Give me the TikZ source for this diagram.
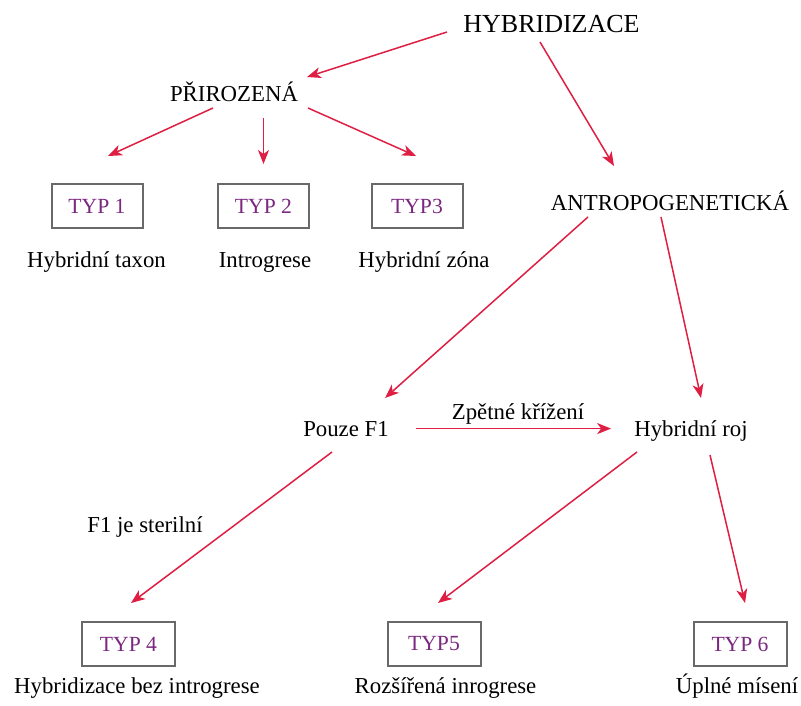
\documentclass[tikz,border=0pt]{standalone}
\usepackage{fontspec}
\setmainfont{Liberation Serif}
\usepackage{tikz}
\usetikzlibrary{arrows.meta, positioning}
\definecolor{arrred}{RGB}{222,30,66}
\definecolor{typpurple}{RGB}{122,40,128}
\definecolor{boxgray}{RGB}{105,105,105}
\tikzstyle{title} = [inner sep=0pt, anchor=base, font=\fontsize{26}{30}\selectfont]
\tikzstyle{lbl} = [inner sep=0pt, anchor=base, font=\fontsize{22.8}{27}\selectfont]
\tikzstyle{typbox} = [draw=boxgray, line width=2pt, fill=white, rectangle, minimum width=91pt, minimum height=44pt, inner sep=0pt, text=typpurple, font=\fontsize{21.6}{26}\selectfont]
\tikzstyle{link} = [->, draw=arrred, line width=1.5pt]

\begin{document}
\begin{tikzpicture}[x=1pt, y=-1pt, >={Stealth[length=14pt,width=11pt,inset=4pt]}]
  \useasboundingbox (0,0) rectangle (801,705);
  % headings
  \node[title] (hyb) at (551.5,32) {HYBRIDIZACE};
  \node[lbl] (pri) at (234,101) {PŘIROZENÁ};
  \node[lbl] (ant) at (670,210) {ANTROPOGENETICKÁ};
  \node[lbl] (pouze) at (346,436) {Pouze F1};
  \node[lbl] (roj) at (691,436) {Hybridní roj};
  \node[lbl] (steril) at (145,532) {F1 je sterilní};
  % types
  \node[typbox] (typ1) at (97,206) {TYP 1};
  \node[typbox] (typ2) at (263.5,206) {TYP 2};
  \node[typbox] (typ3) at (417,206) {TYP3};
  \node[typbox, minimum width=93pt] (typ4) at (128.5,644) {TYP 4};
  \node[typbox, minimum width=93pt] (typ5) at (434,644) {TYP5};
  \node[typbox, minimum width=93pt] (typ6) at (740,644) {TYP 6};
  \node[lbl] (l1) at (96.5,267) {Hybridní taxon};
  \node[lbl] (l2) at (265,267) {Introgrese};
  \node[lbl] (l3) at (424,267) {Hybridní zóna};
  \node[lbl] (l4) at (137,693) {Hybridizace bez introgrese};
  \node[lbl] (l5) at (445.5,693) {Rozšířená inrogrese};
  \node[lbl] (l6) at (737,693) {Úplné mísení};
  % arrows
  \draw[link] ([shift={(-104.5,0)}]hyb.base) -- ([shift={(73,-24)}]pri.base);
  \draw[link] ([shift={(-11.5,10)}]hyb.base) -- ([shift={(-56,-44)}]ant.base);
  \draw[link] ([shift={(-21,7)}]pri.base) -- ([shift={(11,-27)}]typ1.north);
  \draw[link, shorten <=17pt, shorten >=19pt] (pri.south -| typ2.north) -- (typ2.north);
  \draw[link] ([shift={(74,7)}]pri.base) -- ([shift={(-1,-27)}]typ3.north);
  \draw[link] ([shift={(-82,7)}]ant.base) -- ([shift={(39,-38)}]pouze.base);
  \draw[link] ([shift={(-9,7)}]ant.base) -- ([shift={(10,-38)}]roj.base);
  \draw[link, shorten <=27pt, shorten >=23pt] (pouze.east) -- (pouze.east -| roj.west)
    node[lbl, midway, anchor=south, above=3pt, xshift=6.5pt] (zpet) {Zpětné křížení};
  \draw[link] ([shift={(-14,16)}]pouze.base) -- ([shift={(2.5,-18)}]typ4.north);
  \draw[link] ([shift={(-54,16)}]roj.base) -- ([shift={(4,-18)}]typ5.north);
  \draw[link] ([shift={(19,19)}]roj.base) -- ([shift={(5,-18)}]typ6.north);
\end{tikzpicture}
\end{document}
